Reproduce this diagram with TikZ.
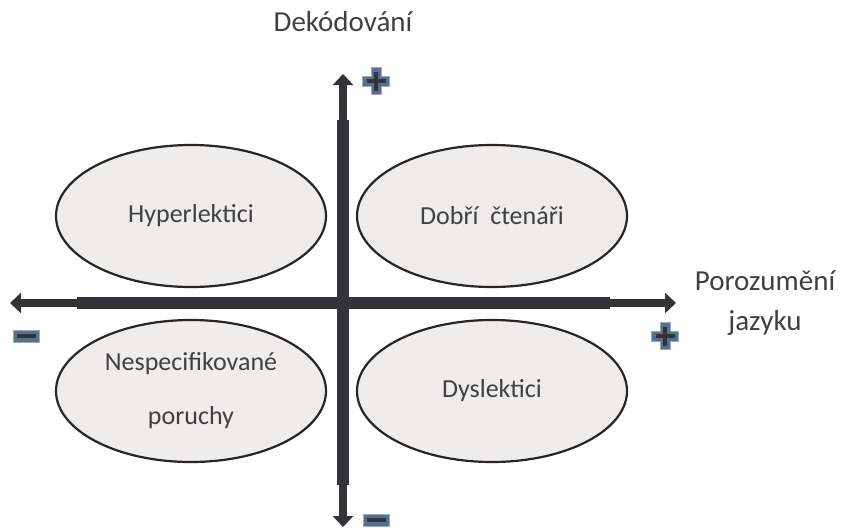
\documentclass[tikz,border=0pt]{standalone}
\usepackage{fontspec}
\setmainfont{Carlito}
\usepackage{tikz}
\usetikzlibrary{arrows.meta, positioning, shapes.geometric}

\definecolor{axisgray}{HTML}{333338}
\definecolor{ovalfill}{HTML}{EFECEC}
\definecolor{textgray}{HTML}{404040}
\definecolor{signblue}{HTML}{56708F}

\tikzset{
  oval/.style={ellipse, draw=black!85, line width=2.2pt, fill=ovalfill,
    minimum width=270pt, minimum height=142pt, text=textgray,
    font=\fontsize{26}{54}\selectfont, align=center},
  axislabel/.style={text=textgray, font=\fontsize{29}{40}\selectfont, align=center},
  thinaxis/.style={draw=axisgray, line width=8pt,
    {Triangle[width=20pt,length=11pt]}-{Triangle[width=20pt,length=11pt]}},
  thickaxis/.style={draw=axisgray, line width=12pt},
  signfill/.style={fill=signblue, draw=signblue!60!white, line width=0.8pt},
  signline/.style={draw=axisgray, line width=3.2pt}
}

\begin{document}
\begin{tikzpicture}[x=1pt, y=-1pt]
  \useasboundingbox (0,0) rectangle (858,527);

  % Axis end points
  \coordinate (L) at (10,303);
  \coordinate (Rt) at (676,303);
  \coordinate (T) at (343,74);
  \coordinate (B) at (343,527);
  \coordinate (La) at (77,303);
  \coordinate (Ra) at (610,303);
  \coordinate (Ta) at (343,120);
  \coordinate (Ba) at (343,485);

  % Axes
  \draw [thinaxis] (L) -- (Rt);
  \draw [thinaxis] (T) -- (B);
  \draw [thickaxis] (La) -- (Ra);
  \draw [thickaxis] (Ta) -- (Ba);

  % Quadrants
  \node (HL) [oval] at (191,216) {Hyperlektici};
  \node (DC) [oval] at (492,216) {Dobří\ \ čtenáři};
  \node (NP) [oval] at (191,391) {Nespecifikované\\poruchy};
  \node (DY) [oval] at (492,391) {Dyslektici};

  % Axis labels
  \node (dek) [axislabel] at (343,22) {Dekódování};
  \node (por) [axislabel] at (765,303) {Porozumění\\jazyku};

  % Signs
  \foreach \name/\cx/\cy in {plusT/376/81, plusR/665/336} {
    \coordinate (\name) at (\cx,\cy);
    \filldraw [signfill] ([shift={(-5,-13.5)}]\name) -- ++(10,0) -- ++(0,8.5) -- ++(8.5,0)
      -- ++(0,10) -- ++(-8.5,0) -- ++(0,8.5) -- ++(-10,0) -- ++(0,-8.5) -- ++(-8.5,0)
      -- ++(0,-10) -- ++(8.5,0) -- cycle;
    \draw [signline] ([xshift=-9.5pt]\name) -- ([xshift=9.5pt]\name);
    \draw [signline] ([yshift=-9.5pt]\name) -- ([yshift=9.5pt]\name);
  }
  \foreach \name/\cx/\cy in {minusL/26/336, minusB/376/520} {
    \coordinate (\name) at (\cx,\cy);
    \filldraw [signfill] ([shift={(-13,-6)}]\name) rectangle ([shift={(13,6)}]\name);
    \draw [signline] ([xshift=-9.5pt]\name) -- ([xshift=9.5pt]\name);
  }
\end{tikzpicture}
\end{document}
